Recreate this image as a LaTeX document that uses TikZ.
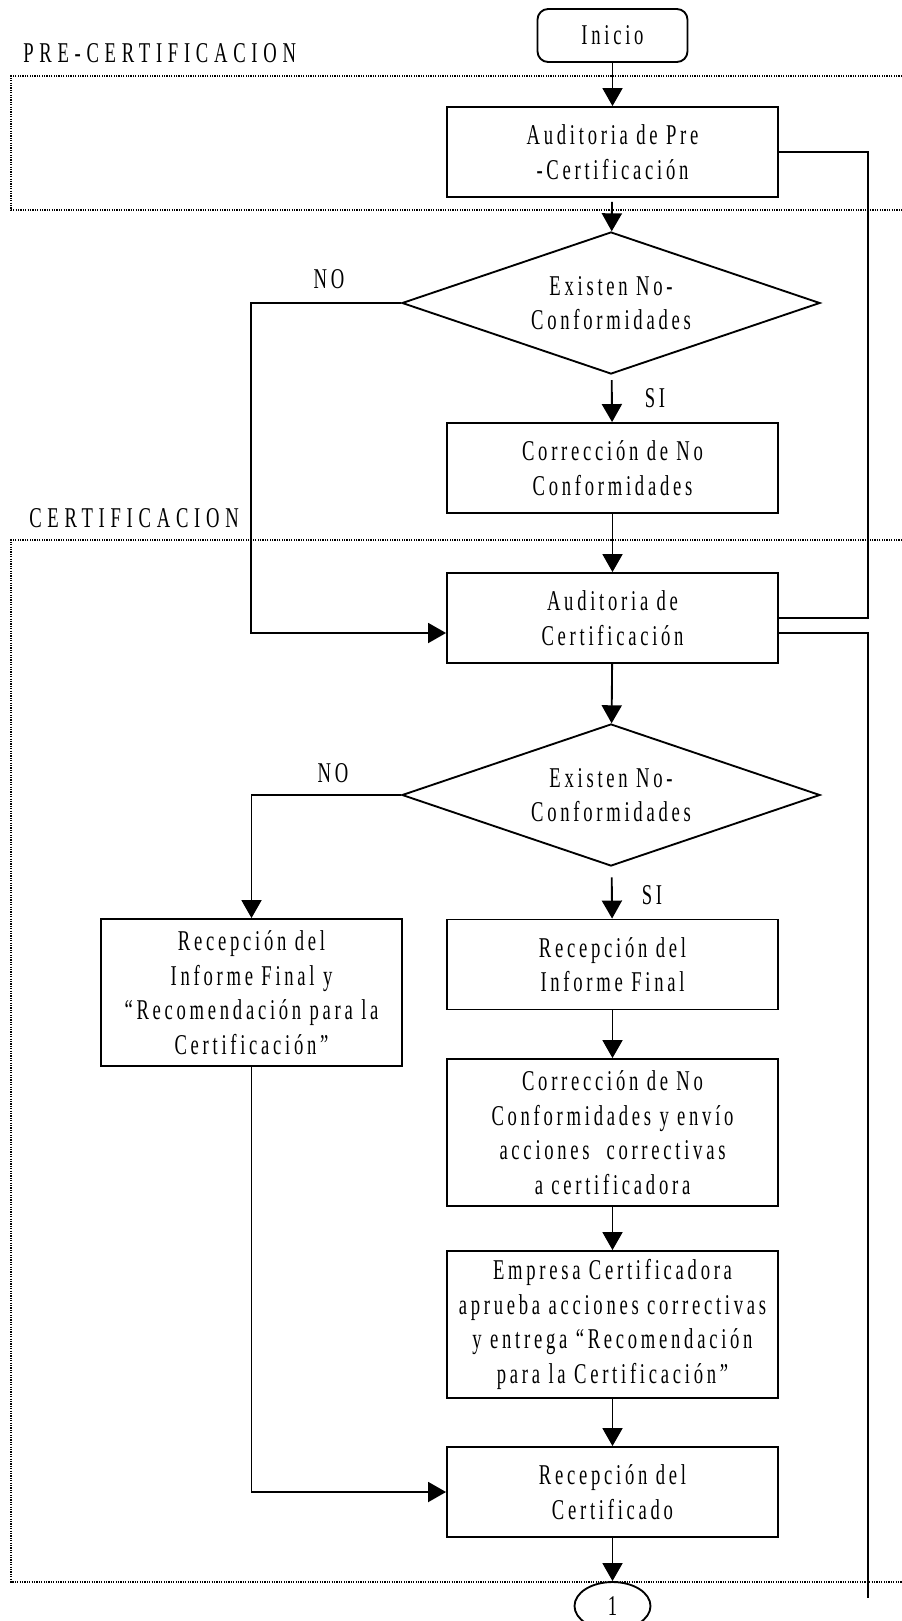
\documentclass[tikz,border=0pt]{standalone}
\usepackage{fontspec}
\newfontfamily\ff[FakeStretch=0.65,LetterSpace=13]{Liberation Serif}
\newfontfamily\fw[FakeStretch=0.65,LetterSpace=20]{Liberation Serif}
\usetikzlibrary{shapes.geometric,arrows.meta}
\begin{document}
\begin{tikzpicture}[x=0.75pt,y=-0.75pt,
  font=\ff\fontsize{21.5}{26}\selectfont,
  box/.style={draw, line width=1.4pt, minimum width=248.25pt, minimum height=67.5pt, inner sep=0pt, align=center},
  tallbox/.style={box, minimum height=110.25pt},
  dec/.style={diamond, draw, line width=1.4pt, minimum width=313.5pt, minimum height=106.5pt, inner sep=0pt, aspect=2.94, align=center},
  arr/.style={line width=1.4pt, -{Triangle[length=13.5pt,width=15pt]}},
  conn/.style={line width=1.4pt},
  frame/.style={line width=0.9pt, dash pattern=on 0.9pt off 0.9pt},
  lab/.style={inner sep=0pt},
  framelab/.style={inner sep=0pt, anchor=west, font=\fw\fontsize{21.5}{26}\selectfont}]
\useasboundingbox (0,0) rectangle (902,1621);
% frames
\draw[frame] (902,76) -- (11,76) -- (11,210) -- (902,210);
\draw[frame] (902,540) -- (11,540) -- (11,1582) -- (902,1582);
\node[framelab] (lpre) at (23,53) {PRE-CERTIFICACION};
\node[framelab] (lcert) at (29,518) {CERTIFICACION};
% nodes
\node[draw, line width=1.4pt, rounded corners=8pt, minimum width=112.5pt, minimum height=39.75pt, inner sep=0pt] (ini) at (612.5,35.5) {Inicio};
\node[box] (aux) at (612.5,152) {Auditoria de Pre\\-Certificación};
\node[dec] (d1) at (611,303) {Existen No-\\Conformidades};
\node[box] (cor1) at (612.5,468) {Corrección de No\\Conformidades};
\node[box] (audc) at (612.5,618) {Auditoria de\\Certificación};
\node[dec] (d2) at (611,795) {Existen No-\\Conformidades};
\node[box] (rfin) at (612.5,964.5) {Recepción del\\Informe Final};
\node[draw, line width=1.4pt, minimum width=225.75pt, minimum height=110.25pt, inner sep=0pt, align=center] (lb) at (251.5,992.5) {Recepción del\\Informe Final y\\“Recomendación para la\\Certificación”};
\node[tallbox] (cor2) at (612.5,1132.5) {Corrección de No\\Conformidades y envío\\acciones \ correctivas\\a certificadora};
\node[tallbox] (emp) at (612.5,1324.5) {Empresa Certificadora\\aprueba acciones correctivas\\y entrega “Recomendación\\para la Certificación”};
\node[box] (rcert) at (612.5,1492) {Recepción del\\Certificado};
\node[ellipse, draw, line width=1.4pt, minimum width=57pt, minimum height=36pt, inner sep=0pt] (one) at (612.5,1606) {1};
% labels
\node[lab] (no1) at (329,279) {NO};
\node[lab] (si1) at (655,398) {SI};
\node[lab] (no2) at (333,773) {NO};
\node[lab] (si2) at (652,895) {SI};
% helper coordinates
\coordinate (lx) at (251,0);
\coordinate (rx) at (868,0);
\coordinate (audin) at ([yshift=-11.25pt]audc.west);
\coordinate (audout) at ([yshift=-11.25pt]audc.east);
\coordinate (rend) at (868,1598);
% connectors
\draw[arr] (ini) -- (aux);
\draw[arr, shorten <=3pt] (aux) -- (d1);
\draw[arr, shorten <=4pt] (d1) -- (cor1);
\draw[arr] (cor1) -- (audc);
\draw[arr] (d1.west) -- (d1.west -| lx) -- (lx |- audin) -- (audin);
\draw[conn] (aux.east) -- (aux.east -| rx) -- (rx |- audc.east) -- (audc.east);
\draw[conn] (audout) -- (audout -| rx) -- (rend);
\draw[arr] (audc) -- (d2);
\draw[arr] (d2.west) -| (lb.north);
\draw[arr, shorten <=8pt] (d2) -- (rfin);
\draw[arr] (rfin) -- (cor2);
\draw[arr] (cor2) -- (emp);
\draw[arr] (emp) -- (rcert);
\draw[arr] (lb.south) |- (rcert.west);
\draw[arr] (rcert) -- (one);
\end{tikzpicture}
\end{document}
